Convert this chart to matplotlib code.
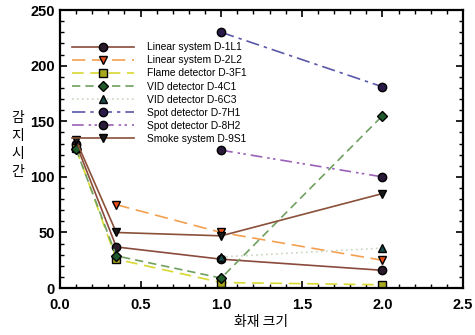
import matplotlib.pyplot as plt
from matplotlib.ticker import MultipleLocator
import numpy as np

plt.rcParams['font.family'] = ['Liberation Sans', 'DejaVu Sans']

# fire size (x) and detection time (y) for each detector
x_full = [0.1, 0.35, 1.0, 2.0]
x_mid = [0.35, 1.0, 2.0]
x_late = [1.0, 2.0]

d1l1 = [130, 37, 26, 16]
d2l2 = [75, 50, 25]
d3f1 = [126, 26, 5, 3]
d4c1 = [125, 29, 9, 155]
d6c3 = [28, 36]
d7h1 = [230, 181]
d8h2 = [124, 100]
d9s1 = [133, 50, 47, 85]

labels = ['Linear system D-1L1', 'Linear system D-2L2', 'Flame detector D-3F1',
          'VID detector D-4C1', 'VID detector D-6C3', 'Spot detector D-7H1',
          'Spot detector D-8H2', 'Smoke system D-9S1']

fig = plt.figure(figsize=(4.75, 3.35), dpi=100)
ax = fig.add_axes([0.126, 0.14, 0.849, 0.83])

ms = 6
ax.plot(x_full, d1l1, color='#8a4a3c', lw=1.2, marker='o', ms=ms,
        mfc='#2a1a2a', mec='black', label=labels[0])
ax.plot(x_mid, d2l2, color='#f4a050', lw=1.2, dashes=(8, 4), marker='v', ms=ms,
        mfc='#e8501a', mec='black', label=labels[1])
ax.plot(x_full, d3f1, color='#d8d830', lw=1.2, dashes=(7, 4), marker='s', ms=ms,
        mfc='#a8a820', mec='black', label=labels[2])
ax.plot(x_full, d4c1, color='#70a060', lw=1.2, dashes=(5, 3), marker='D', ms=5,
        mfc='#1f5a2a', mec='black', label=labels[3])
ax.plot(x_late, d6c3, color='#c8d8c0', lw=1.2, dashes=(1, 2), marker='^', ms=ms,
        mfc='#1a4a4a', mec='black', label=labels[4])
ax.plot(x_late, d7h1, color='#5a58a8', lw=1.2, dashes=(8, 3, 2, 3), marker='o', ms=ms,
        mfc='#2a1a4a', mec='black', label=labels[5])
ax.plot(x_late, d8h2, color='#9a60b8', lw=1.2, dashes=(7, 3, 1.5, 2, 1.5, 3), marker='o', ms=ms,
        mfc='#2a1a3a', mec='black', label=labels[6])
ax.plot(x_full, d9s1, color='#8a5038', lw=1.2, marker='v', ms=ms,
        mfc='#1a1a1a', mec='black', label=labels[7])

ax.set_xlim(0, 2.5)
ax.set_ylim(0, 250)
ax.xaxis.set_major_locator(MultipleLocator(0.5))
ax.xaxis.set_minor_locator(MultipleLocator(0.1))
ax.yaxis.set_major_locator(MultipleLocator(50))
ax.yaxis.set_minor_locator(MultipleLocator(10))
ax.tick_params(which='both', direction='in', top=True, right=True)
ax.tick_params(which='major', length=5, width=1.2)
ax.tick_params(which='minor', length=3, width=1)
ax.tick_params(axis='x', which='major', pad=7)
for lab in ax.get_xticklabels() + ax.get_yticklabels():
    lab.set_fontweight('bold')
    lab.set_fontsize(10.5)
for sp in ax.spines.values():
    sp.set_linewidth(1.6)

ax.set_xlabel('화재 크기', family=['Noto Sans CJK KR', 'DejaVu Sans'], fontsize=10, labelpad=2)
fig.text(0.038, 0.567, '감\n지\n시\n간', family=['Noto Sans CJK KR', 'DejaVu Sans'],
         fontsize=10, ha='center', va='center', linespacing=1.35)

leg = ax.legend(loc='upper left', bbox_to_anchor=(0.012, 0.91), frameon=False,
                fontsize=7.4, handlelength=6.0, handletextpad=1.35,
                labelspacing=0.3, borderaxespad=0.3)

fig.savefig('out.png', dpi=100)
